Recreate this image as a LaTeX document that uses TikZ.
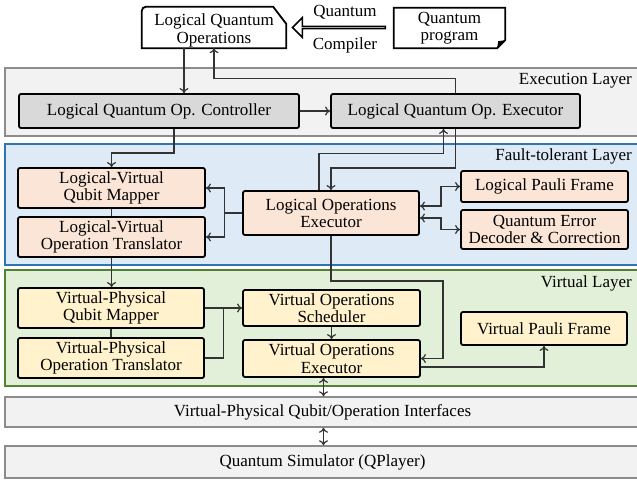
\documentclass[tikz,border=0pt]{standalone}
\usepackage{fontspec}
\setmainfont{Liberation Serif}
\usepackage{tikz}
\usetikzlibrary{calc,arrows.meta,shapes.arrows}

\definecolor{laygray}{HTML}{F2F2F2}
\definecolor{layline}{HTML}{8C8C8C}
\definecolor{execbox}{HTML}{D9D9D9}
\definecolor{ftfill}{HTML}{DEEBF7}
\definecolor{ftline}{HTML}{2E75B6}
\definecolor{ftbox}{HTML}{FBE5D6}
\definecolor{vlfill}{HTML}{E2F0D9}
\definecolor{vlline}{HTML}{548235}
\definecolor{vlbox}{HTML}{FFF2CC}
\definecolor{wirecol}{HTML}{333333}

\begin{document}
\begin{tikzpicture}[x=1pt, y=-1pt, font=\fontsize{17}{17.5}\selectfont,
  >={To[length=5pt,width=9pt]},
  blk/.style={draw=black, line width=1.8pt, rounded corners=2pt, align=center, inner sep=0pt},
  layer/.style={minimum width=635pt, inner sep=0pt, line width=1.5pt},
  laylabel/.style={anchor=base east, inner sep=0pt},
  wire/.style={draw=wirecol, line width=1.2pt}]
\useasboundingbox (0,0) rectangle (637,483);

\node[layer, draw=layline, fill=laygray, minimum height=68pt] (exl) at (322.5,102) {};
\node[laylabel] (exlab) at (632,84) {Execution Layer};
\node[layer, draw=ftline, fill=ftfill, minimum height=121pt] (ftl) at (322.5,204.5) {};
\node[laylabel] (ftlab) at (632,160) {Fault-tolerant Layer};
\node[layer, draw=vlline, fill=vlfill, minimum height=116pt] (vl) at (322.5,328) {};
\node[laylabel] (vllab) at (632,287) {Virtual Layer};
\node[layer, draw=layline, fill=laygray, minimum height=30pt] (intf) at (322.5,412) {Virtual-Physical Qubit/Operation Interfaces};
\node[layer, draw=layline, fill=laygray, minimum height=32pt] (sim) at (322.5,462) {Quantum Simulator (QPlayer)};

\node[minimum width=144pt, minimum height=35pt, inner sep=0pt, align=center] (lqo) at (214,30.5) {Logical Quantum\\Operations};
\draw[line width=1.8pt] (lqo.south west) [rounded corners=4pt] -- ($(lqo.north west)+(0,-6)$) [sharp corners] -- ($(lqo.north east)+(-13,-6)$) -- ($(lqo.north east)+(0,11)$) -- (lqo.south east) -- cycle;
\node[minimum width=111pt, minimum height=40pt, inner sep=0pt, align=center] (qprog) at (449.5,28) {Quantum\\program};
\draw[line width=1.8pt] (qprog.south west) -- (qprog.north west) -- (qprog.north east) -- ($(qprog.south east)+(0,-8)$) -- ($(qprog.south east)+(-8,0)$) -- cycle;
\fill ($(qprog.south east)+(0,-8)$) -- ($(qprog.south east)+(-8,0)$) -- ($(qprog.south east)+(-7,-7)$) -- cycle;
\node[single arrow, draw=black, fill=white, line width=1.5pt, shape border rotate=180, minimum height=93pt, minimum width=20pt, single arrow head extend=6.5pt, inner sep=0pt] (compiler) at (339.5,27.5) {};
\node (cq) at (345,12) {Quantum};
\node (cc) at (345,45) {Compiler};

\node[blk, fill=execbox, minimum width=280pt, minimum height=34pt] (lqoc) at (159,111) {Logical Quantum Op. Controller};
\node[blk, fill=execbox, minimum width=249pt, minimum height=34pt] (lqoe) at (455.5,111) {Logical Quantum Op. Executor};

\node[blk, fill=ftbox, minimum width=187pt, minimum height=40pt] (lvqm) at (111.5,188) {Logical-Virtual\\Qubit Mapper};
\node[blk, fill=ftbox, minimum width=187pt, minimum height=40pt] (lvot) at (111.5,237) {Logical-Virtual\\Operation Translator};
\node[blk, fill=ftbox, minimum width=176pt, minimum height=44pt] (loe) at (331,213) {Logical Operations\\Executor};
\node[blk, fill=ftbox, minimum width=167pt, minimum height=31pt] (lpf) at (544.5,186.5) {Logical Pauli Frame};
\node[blk, fill=ftbox, minimum width=167pt, minimum height=39pt] (qedc) at (544.5,229.5) {Quantum Error\\Decoder \& Correction};

\node[blk, fill=vlbox, minimum width=186pt, minimum height=40pt] (vpqm) at (111,308) {Virtual-Physical\\Qubit Mapper};
\node[blk, fill=vlbox, minimum width=186pt, minimum height=40pt] (vpot) at (111,358) {Virtual-Physical\\Operation Translator};
\node[blk, fill=vlbox, minimum width=177pt, minimum height=36pt] (vos) at (331.5,308) {Virtual Operations\\Scheduler};
\node[blk, fill=vlbox, minimum width=177pt, minimum height=37pt] (voe) at (331.5,358.5) {Virtual Operations\\Executor};
\node[blk, fill=vlbox, minimum width=166pt, minimum height=33pt] (vpf) at (544,328.5) {Virtual Pauli Frame};

\draw[wire,->] ($(lqo.south)+(-30,0)$) coordinate (lqd) -- (lqd |- lqoc.north);
\draw[wire,->] (lqoc) -- (lqoe);
\draw[wire,->] (lqoe.north) -- ++(0,-15) -| (lqo.south);
\draw[wire,->] ($(lqoc.south)+(15,0)$) -- ++(0,24) -| (lvqm.north);
\draw[wire] (lvqm) -- (lvot);
\draw[wire,->] (lvot.south) -- (lvot.south |- vpqm.north);
\draw[wire,->] (loe.west) -- ++(-18,0) |- (lvqm.east);
\draw[wire,->] (loe.west) -- ++(-18,0) |- (lvot.east);
\draw[wire,->] ($(loe.north)+(-12,0)$) -- ++(0,-37) -| ($(lqoe.south)+(-12,0)$);
\draw[wire,->] (lqoe.south) -- ++(0,39) -| (loe.north);
\draw[wire,<->] ($(loe.east)+(0,-7)$) -- ++(21,0) |- (lpf.west);
\draw[wire,<->] ($(loe.east)+(0,5)$) -- ++(21,0) |- (qedc.west);
\draw[wire,->] (loe.south) -- ++(0,45) -- ++(112,0) |- (voe.east);
\draw[wire] (vpqm) -- (vpot);
\draw[wire,->] (vpqm) -- (vos);
\draw[wire] (vpot.east) -| ($(vpqm.east)!0.5!(vos.west)$);
\draw[wire,->] (vos) -- (voe);
\draw[wire,->] ($(voe.east)+(0,8.5)$) -| (vpf.south);
\draw[wire,<->] ($(voe.south)+(-8,0)$) coordinate (vio) -- (vio |- intf.north);
\draw[wire,<->] (vio |- intf.south) -- (vio |- sim.north);
\end{tikzpicture}
\end{document}
